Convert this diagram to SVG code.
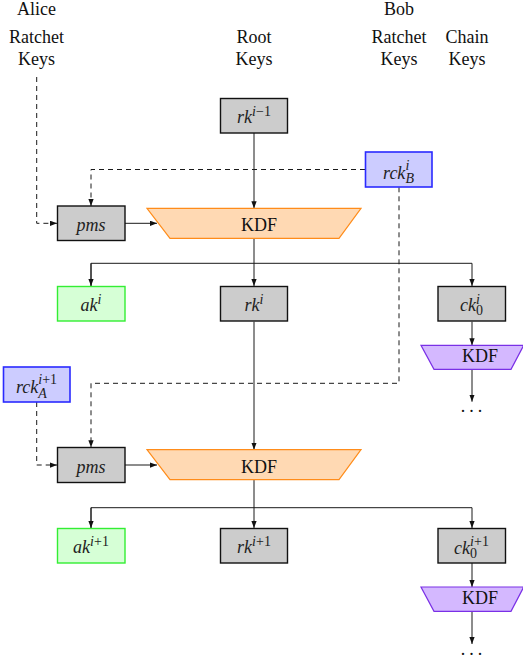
<svg xmlns="http://www.w3.org/2000/svg" width="523" height="664" viewBox="0 0 523 664">
<style>
text{font-family:"Liberation Serif","Times New Roman",serif}
.hd{font-size:18px;fill:#111;text-anchor:middle}
.m{font-size:18px;fill:#222;text-anchor:middle;font-style:italic}
.s{font-size:14px}
.u{font-style:normal}
.kdf{font-size:18px;fill:#111;text-anchor:middle}
.dots{font-size:18px;fill:#111;text-anchor:middle;letter-spacing:4px}
.gray{fill:#cccccc;stroke:#111;stroke-width:1.4}
.green{fill:#d6ffd6;stroke:#33ee33;stroke-width:1.4}
.blue{fill:#ccccff;stroke:#2a2aff;stroke-width:1.6}
.orange{fill:#ffd9b3;stroke:#ff8c1a;stroke-width:1.2}
.purple{fill:#d4b8ff;stroke:#7a30e6;stroke-width:1.2}
.ln{fill:none;stroke:#1a1a1a;stroke-width:1}
.dash{fill:none;stroke:#1a1a1a;stroke-width:1;stroke-dasharray:5 4}
</style>
<defs>
<marker id="ah" viewBox="0 0 8 6" refX="8" refY="3" markerWidth="7" markerHeight="5.5" markerUnits="userSpaceOnUse" orient="auto">
<path d="M0,0 L8,3 L0,6 z" fill="#111"/>
</marker>
</defs>

<g id="headers">
<text class="hd" x="36.5" y="15">Alice</text>
<text class="hd" x="36.5" y="42.5">Ratchet</text>
<text class="hd" x="36.5" y="65">Keys</text>
<text class="hd" x="254" y="42.5">Root</text>
<text class="hd" x="254" y="65">Keys</text>
<text class="hd" x="399" y="15">Bob</text>
<text class="hd" x="399" y="42.5">Ratchet</text>
<text class="hd" x="399" y="65">Keys</text>
<text class="hd" x="467" y="42.5">Chain</text>
<text class="hd" x="467" y="65">Keys</text>
</g>

<g id="connectors">
<path class="dash" d="M36.7,77 V223.3 H57" marker-end="url(#ah)"/>
<path class="dash" d="M365,169.5 H91 V206" marker-end="url(#ah)"/>
<path class="ln" d="M254,133 V208.3" marker-end="url(#ah)"/>
<path class="ln" d="M125,223.3 H157" marker-end="url(#ah)"/>
<path class="ln" d="M254,238.3 V286" marker-end="url(#ah)"/>
<path class="ln" d="M91,286 V263.3 H472 V286" marker-end="url(#ah)"/>
<path class="ln" d="M91,263.3 V286" marker-end="url(#ah)"/>
<path class="ln" d="M472,321.7 V345.3" marker-end="url(#ah)"/>
<path class="ln" d="M472,369.3 V401.7" marker-end="url(#ah)"/>
<path class="ln" d="M254,321.7 V449.7" marker-end="url(#ah)"/>
<path class="dash" d="M399,187.3 V383.3 H91 V447.3" marker-end="url(#ah)"/>
<path class="dash" d="M36.7,402 V465 H57" marker-end="url(#ah)"/>
<path class="ln" d="M125,465 H157" marker-end="url(#ah)"/>
<path class="ln" d="M254,479.7 V528" marker-end="url(#ah)"/>
<path class="ln" d="M91,528 V507.7 H472 V528" marker-end="url(#ah)"/>
<path class="ln" d="M91,507.7 V528" marker-end="url(#ah)"/>
<path class="ln" d="M472,563 V587" marker-end="url(#ah)"/>
<path class="ln" d="M472,611.3 V644" marker-end="url(#ah)"/>
</g>

<g id="rk_im1">
<rect class="gray" x="220.5" y="98.5" width="67" height="34.5"/>
<text class="m" x="254" y="123">rk<tspan class="s" dy="-7.5">i</tspan><tspan class="s u">−1</tspan></text>
</g>

<g id="rckB_i">
<rect class="blue" x="365.5" y="152" width="66.5" height="35"/>
<text class="m" x="398.5" y="178.5">rck<tspan class="s" dy="-8.5">i</tspan><tspan class="s" dx="-3.9" dy="12.5">B</tspan></text>
</g>

<g id="pms1">
<rect class="gray" x="57.5" y="206" width="67.5" height="34.5"/>
<text class="m" x="91" y="230.5">pms</text>
</g>

<g id="kdf1">
<polygon class="orange" points="147,208.3 361,208.3 339,238.3 170,238.3"/>
<text class="kdf" x="259" y="231">KDF</text>
</g>

<g id="ak_i">
<rect class="green" x="57.5" y="286.5" width="67.5" height="34.5"/>
<text class="m" x="91" y="310.7">ak<tspan class="s" dy="-6.5">i</tspan></text>
</g>

<g id="rk_i">
<rect class="gray" x="220.5" y="286.5" width="67" height="34.5"/>
<text class="m" x="254" y="310.7">rk<tspan class="s" dy="-6.5">i</tspan></text>
</g>

<g id="ck0_i">
<rect class="gray" x="438" y="286.5" width="67.5" height="34.5"/>
<text class="m" x="471.5" y="310.7">ck<tspan class="s" dy="-7">i</tspan><tspan class="s u" dx="-3.9" dy="11.5">0</tspan></text>
</g>

<g id="kdf_chain1">
<polygon class="purple" points="421,345.3 523.7,345.3 511,369.3 434,369.3"/>
<text class="kdf" x="480" y="361.7">KDF</text>
</g>

<g id="dots1">
<text class="dots" x="473.5" y="411.5">...</text>
</g>

<g id="rckA_ip1">
<rect class="blue" x="3.5" y="367" width="66.5" height="35"/>
<text class="m" x="36.5" y="393">rck<tspan class="s" dy="-9">i</tspan><tspan class="s u">+1</tspan><tspan class="s" dx="-18.8" dy="13.5">A</tspan></text>
</g>

<g id="pms2">
<rect class="gray" x="57.5" y="447.5" width="67.5" height="35"/>
<text class="m" x="91" y="472.5">pms</text>
</g>

<g id="kdf2">
<polygon class="orange" points="147,449.7 361,449.7 339,479.7 170,479.7"/>
<text class="kdf" x="259" y="473">KDF</text>
</g>

<g id="ak_ip1">
<rect class="green" x="57.5" y="528.5" width="67.5" height="34.5"/>
<text class="m" x="91" y="553">ak<tspan class="s" dy="-7">i</tspan><tspan class="s u">+1</tspan></text>
</g>

<g id="rk_ip1">
<rect class="gray" x="220.5" y="528.5" width="67" height="34.5"/>
<text class="m" x="254" y="553">rk<tspan class="s" dy="-7">i</tspan><tspan class="s u">+1</tspan></text>
</g>

<g id="ck0_ip1">
<rect class="gray" x="438" y="528.5" width="67.5" height="34.5"/>
<text class="m" x="471.5" y="553.5">ck<tspan class="s" dy="-8">i</tspan><tspan class="s u">+1</tspan><tspan class="s u" dx="-18.8" dy="12.5">0</tspan></text>
</g>

<g id="kdf_chain2">
<polygon class="purple" points="421,587 523.7,587 511,611.3 434,611.3"/>
<text class="kdf" x="480" y="604">KDF</text>
</g>

<g id="dots2">
<text class="dots" x="473.5" y="654.5">...</text>
</g>
</svg>
